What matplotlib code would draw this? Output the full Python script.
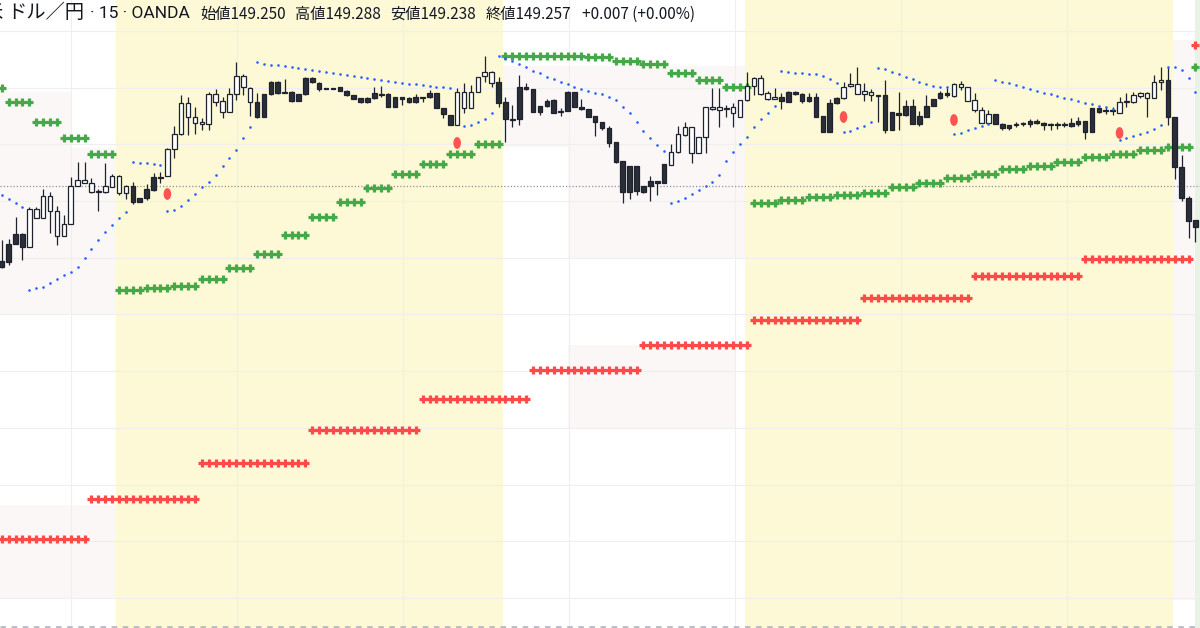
import numpy as np
import matplotlib
matplotlib.use("Agg")
import matplotlib.pyplot as plt
from matplotlib.patches import Rectangle, Ellipse

plt.rcParams['font.family'] = ['Noto Sans CJK JP', 'DejaVu Sans']

# ---------------- data (15-minute USD/JPY bars) ----------------
opens = [
    149.189, 149.206, 149.216, 149.216, 149.203, 149.232, 149.232, 149.239, 149.214, 149.214,
    149.226, 149.264, 149.267, 149.258, 149.258, 149.258, 149.263, 149.257, 149.257, 149.264,
    149.252, 149.261, 149.273, 149.273, 149.274, 149.301, 149.316, 149.333, 149.327, 149.326,
    149.326, 149.348, 149.338, 149.338, 149.356, 149.363, 149.348, 149.348, 149.356, 149.368,
    149.368, 149.357, 149.358, 149.356, 149.372, 149.372, 149.367, 149.362, 149.362, 149.363,
    149.359, 149.355, 149.352, 149.352, 149.357, 149.356, 149.356, 149.353, 149.353, 149.352,
    149.353, 149.353, 149.357, 149.357, 149.342, 149.335, 149.325, 149.342, 149.342, 149.358,
    149.374, 149.367, 149.368, 149.348, 149.331, 149.363, 149.363, 149.361, 149.344, 149.349,
    149.350, 149.339, 149.358, 149.358, 149.343, 149.341, 149.334, 149.328, 149.322, 149.308,
    149.289, 149.284, 149.284, 149.264, 149.269, 149.269, 149.286, 149.285, 149.298, 149.315,
    149.297, 149.297, 149.313, 149.341, 149.340, 149.341, 149.337, 149.333, 149.350, 149.364,
    149.356, 149.351, 149.351, 149.353, 149.358, 149.358, 149.356, 149.353, 149.353, 149.334,
    149.347, 149.352, 149.352, 149.364, 149.356, 149.356, 149.355, 149.355, 149.355, 149.338,
    149.337, 149.344, 149.344, 149.334, 149.344, 149.351, 149.357, 149.357, 149.354, 149.363,
    149.349, 149.340, 149.327, 149.327, 149.336, 149.326, 149.325, 149.326, 149.327, 149.329,
    149.329, 149.327, 149.326, 149.326, 149.326, 149.327, 149.329, 149.329, 149.342, 149.342,
    149.340, 149.340, 149.337, 149.348, 149.348, 149.354, 149.352, 149.352, 149.368, 149.370,
    149.333, 149.283, 149.252, 149.230,
]
highs = [
    149.210, 149.211, 149.233, 149.217, 149.243, 149.243, 149.261, 149.258, 149.244, 149.235,
    149.273, 149.288, 149.288, 149.272, 149.261, 149.287, 149.276, 149.275, 149.265, 149.268,
    149.252, 149.266, 149.277, 149.278, 149.302, 149.324, 149.355, 149.353, 149.343, 149.332,
    149.358, 149.361, 149.353, 149.362, 149.388, 149.376, 149.363, 149.357, 149.356, 149.369,
    149.369, 149.371, 149.359, 149.356, 149.373, 149.373, 149.368, 149.362, 149.362, 149.363,
    149.360, 149.355, 149.352, 149.353, 149.363, 149.364, 149.357, 149.353, 149.353, 149.353,
    149.356, 149.353, 149.360, 149.357, 149.342, 149.335, 149.362, 149.367, 149.365, 149.373,
    149.394, 149.379, 149.373, 149.353, 149.345, 149.375, 149.367, 149.361, 149.344, 149.351,
    149.351, 149.342, 149.359, 149.358, 149.351, 149.341, 149.334, 149.328, 149.324, 149.308,
    149.289, 149.284, 149.284, 149.264, 149.274, 149.269, 149.286, 149.306, 149.324, 149.328,
    149.323, 149.313, 149.343, 149.362, 149.362, 149.345, 149.347, 149.350, 149.378, 149.373,
    149.375, 149.359, 149.362, 149.357, 149.359, 149.359, 149.357, 149.357, 149.357, 149.334,
    149.351, 149.353, 149.368, 149.377, 149.383, 149.367, 149.361, 149.355, 149.370, 149.338,
    149.358, 149.350, 149.351, 149.339, 149.355, 149.351, 149.359, 149.362, 149.367, 149.369,
    149.363, 149.357, 149.343, 149.340, 149.336, 149.327, 149.325, 149.328, 149.328, 149.331,
    149.331, 149.328, 149.327, 149.328, 149.328, 149.332, 149.333, 149.329, 149.342, 149.343,
    149.343, 149.343, 149.353, 149.357, 149.358, 149.358, 149.358, 149.375, 149.383, 149.383,
    149.333, 149.295, 149.254, 149.230,
]
lows = [
    149.182, 149.185, 149.206, 149.190, 149.203, 149.232, 149.232, 149.217, 149.205, 149.214,
    149.226, 149.264, 149.267, 149.257, 149.239, 149.257, 149.263, 149.255, 149.251, 149.246,
    149.248, 149.250, 149.259, 149.267, 149.274, 149.292, 149.315, 149.315, 149.316, 149.320,
    149.320, 149.344, 149.332, 149.338, 149.350, 149.355, 149.334, 149.332, 149.333, 149.355,
    149.356, 149.357, 149.348, 149.349, 149.355, 149.367, 149.359, 149.361, 149.361, 149.359,
    149.354, 149.351, 149.347, 149.347, 149.351, 149.353, 149.343, 149.343, 149.345, 149.347,
    149.347, 149.348, 149.352, 149.342, 149.332, 149.325, 149.325, 149.337, 149.342, 149.358,
    149.368, 149.363, 149.343, 149.308, 149.323, 149.325, 149.360, 149.338, 149.335, 149.343,
    149.337, 149.334, 149.339, 149.343, 149.340, 149.333, 149.314, 149.320, 149.303, 149.287,
    149.247, 149.251, 149.255, 149.257, 149.249, 149.255, 149.267, 149.285, 149.297, 149.314,
    149.287, 149.297, 149.297, 149.340, 149.323, 149.333, 149.323, 149.333, 149.349, 149.355,
    149.355, 149.350, 149.351, 149.341, 149.348, 149.355, 149.347, 149.348, 149.333, 149.318,
    149.318, 149.346, 149.351, 149.363, 149.356, 149.349, 149.349, 149.328, 149.317, 149.320,
    149.320, 149.334, 149.326, 149.324, 149.333, 149.344, 149.351, 149.353, 149.353, 149.360,
    149.349, 149.338, 149.327, 149.327, 149.326, 149.320, 149.320, 149.323, 149.324, 149.323,
    149.326, 149.320, 149.320, 149.321, 149.323, 149.323, 149.324, 149.311, 149.318, 149.337,
    149.336, 149.335, 149.337, 149.343, 149.347, 149.352, 149.333, 149.352, 149.360, 149.325,
    149.271, 149.249, 149.212, 149.208,
]
closes = [
    149.183, 149.188, 149.206, 149.203, 149.241, 149.241, 149.254, 149.254, 149.239, 149.226,
    149.264, 149.270, 149.270, 149.267, 149.259, 149.264, 149.274, 149.274, 149.264, 149.248,
    149.248, 149.252, 149.260, 149.272, 149.301, 149.316, 149.347, 149.347, 149.333, 149.328,
    149.356, 149.356, 149.349, 149.356, 149.374, 149.374, 149.362, 149.333, 149.333, 149.356,
    149.357, 149.358, 149.349, 149.349, 149.356, 149.368, 149.361, 149.361, 149.361, 149.359,
    149.355, 149.351, 149.348, 149.348, 149.352, 149.355, 149.343, 149.343, 149.351, 149.348,
    149.348, 149.352, 149.353, 149.342, 149.336, 149.325, 149.358, 149.358, 149.358, 149.373,
    149.378, 149.378, 149.347, 149.331, 149.330, 149.331, 149.361, 149.338, 149.338, 149.344,
    149.337, 149.338, 149.339, 149.343, 149.341, 149.333, 149.328, 149.322, 149.307, 149.288,
    149.258, 149.258, 149.259, 149.258, 149.264, 149.267, 149.267, 149.298, 149.316, 149.323,
    149.323, 149.313, 149.343, 149.343, 149.343, 149.342, 149.343, 149.350, 149.364, 149.372,
    149.372, 149.357, 149.353, 149.349, 149.348, 149.356, 149.349, 149.349, 149.333, 149.318,
    149.318, 149.347, 149.363, 149.366, 149.366, 149.359, 149.358, 149.354, 149.320, 149.320,
    149.335, 149.335, 149.326, 149.326, 149.333, 149.344, 149.352, 149.355, 149.366, 149.366,
    149.363, 149.350, 149.340, 149.336, 149.326, 149.322, 149.322, 149.325, 149.326, 149.326,
    149.327, 149.325, 149.325, 149.325, 149.325, 149.324, 149.326, 149.318, 149.318, 149.338,
    149.339, 149.339, 149.348, 149.349, 149.355, 149.357, 149.357, 149.368, 149.370, 149.333,
    149.283, 149.252, 149.229, 149.223,
]
# Parabolic SAR (one dot per bar, NaN = not drawn)
sar = [
    149.255, 149.251, 149.247, 149.243, 149.160, 149.162, 149.163, 149.167, 149.171, 149.175,
    149.178, 149.183, 149.192, 149.201, 149.210, 149.218, 149.225, 149.232, 149.238, 149.288,
    149.287, 149.287, 149.286, 149.285, 149.239, 149.240, 149.244, 149.250, 149.256, 149.263,
    149.268, 149.275, 149.284, 149.292, 149.300, 149.312, 149.323, 149.388, 149.386, 149.385,
    149.385, 149.384, 149.383, 149.382, 149.381, 149.380, 149.379, 149.378, 149.377, 149.376,
    149.375, 149.374, 149.373, 149.372, 149.371, 149.370, 149.369, 149.368, 149.367, 149.366,
    149.366, 149.365, 149.364, 149.363, 149.363, 149.362, np.nan, 149.324, 149.325, 149.328,
    149.331, 149.337, 149.394, 149.392, 149.389, 149.386, 149.383, 149.379, 149.377, 149.373,
    149.371, 149.368, 149.366, 149.363, 149.361, 149.359, 149.357, 149.356, 149.353, 149.350,
    149.343, 149.337, 149.328, 149.319, 149.312, 149.305, 149.299, 149.247, 149.249, 149.252,
    149.256, 149.260, 149.264, 149.268, 149.275, 149.289, 149.298, 149.306, 149.313, 149.323,
    149.331, 149.337, 149.344, 149.379, 149.378, 149.377, 149.377, 149.376, 149.376, 149.374,
    149.371, 149.367, 149.318, 149.319, 149.322, 149.324, 149.328, 149.382, 149.381, 149.378,
    149.376, 149.373, 149.371, 149.368, 149.366, 149.364, 149.363, 149.363, 149.316, 149.317,
    149.320, 149.322, 149.324, 149.326, 149.370, 149.368, 149.367, 149.365, 149.363, 149.361,
    149.359, 149.357, 149.356, 149.354, 149.352, 149.351, 149.349, 149.347, 149.346, 149.344,
    149.343, 149.341, 149.310, 149.312, 149.314, 149.316, 149.318, 149.321, 149.325, 149.383,
    149.383, 149.380, 149.372, 149.358,
]
# hourly step level (green crosses): first bar of each group and its level
hour_start = [0, 1, 5, 9, 13, 17, 21, 25, 29, 33, 37, 41, 45, 49, 53, 57, 61, 65, 69, 73, 77, 81,
              85, 89, 93, 97, 101, 105, 109, 113, 117, 121, 125, 129, 133, 137, 141, 145, 149,
              153, 157, 161, 165, 169, 173]
hour_level = [149.362, 149.348, 149.328, 149.312, 149.296, 149.160, 149.162, 149.164, 149.171,
              149.182, 149.196, 149.215, 149.233, 149.248, 149.262, 149.276, 149.286, 149.296,
              149.306, 149.394, 149.394, 149.394, 149.393, 149.389, 149.386, 149.377, 149.370,
              149.363, 149.247, 149.250, 149.253, 149.255, 149.257, 149.263, 149.267, 149.272,
              149.276, 149.281, 149.284, 149.288, 149.293, 149.296, 149.300, 149.303, 149.383]
# 4-hour step level (red crosses)
h4_start = [0, 13, 29, 45, 61, 77, 93, 109, 125, 141, 157, 173]
h4_level = [148.911, 148.951, 148.987, 149.020, 149.051, 149.080, 149.105, 149.130,
            149.152, 149.174, 149.191, 149.405]
# buy signal markers
signal_bar = [24, 66, 122, 138, 162]
signal_price = [149.256, 149.307, 149.333, 149.330, 149.317]
last_line_price = 149.264
sessions = [(16.56, 72.64), (107.7, 169.75)]

title_pair = "ドル／円"
title_rest = "· 15 · OANDA"
title_cut = "米"
ohlc_labels = ["始値149.250", "高値149.288", "安値149.238", "終値149.257", "+0.007 (+0.00%)"]

# ---------------- figure ----------------
W, H = 1200, 628
fig = plt.figure(figsize=(W / 100, H / 100), dpi=100)
fig.patch.set_facecolor('white')
ax = fig.add_axes([0, 0, 1, 1])
n = len(opens)
bars = np.arange(n)
ax.set_xlim(-0.254, 173.66)
ax.set_ylim(148.822, 149.450)
ax.axis('off')

# backgrounds
for s, e in sessions:
    ax.axvspan(s, e, color='#fdf8d5', lw=0, zorder=0)
pink = '#fbf7f7'
for (x0, x1, y0, y1) in [(-0.3, 16.56, 149.135, 149.302), (-0.3, 10.0, 149.302, 149.358),
                         (-0.3, 16.56, 148.852, 148.945), (72.64, 107.7, 149.303, 149.384),
                         (82.1, 107.7, 149.192, 149.303), (82.1, 106.3, 149.022, 149.105),
                         (169.75, 172.95, 148.850, 149.410)]:
    ax.add_patch(Rectangle((x0, y0), x1 - x0, y1 - y0, facecolor=pink, lw=0, zorder=0.5))
ax.axvspan(172.95, 174, color='#e8f3e5', lw=0, zorder=0.6)

# grid
for k in range(11):
    ax.axhline(149.419 - 0.0567 * k, color='#efefef', lw=0.8, zorder=1)
for k in range(7):
    ax.axvline(10.04 + 24.06 * k, color='#efefef', lw=0.8, zorder=1)

# last price line & bottom border
ax.axhline(last_line_price, color='#8f9099', lw=0.9, ls=(0, (1, 1.6)), zorder=2)
ax.axhline(148.8235, color='#b8bbc2', lw=2.0, ls=(0, (2, 2)), zorder=2)

# step crosses
hour_len = np.diff(hour_start + [n])
h4_len = np.diff(h4_start + [n])
green_vals = np.repeat(hour_level, hour_len)
red_vals = np.repeat(h4_level, h4_len)
ax.plot(bars, red_vals, ls='none', marker='+', ms=6.3, mew=2.3, color='#ff4a4a', zorder=3)
ax.plot(bars, green_vals, ls='none', marker='+', ms=6.3, mew=2.3, color='#45a849', zorder=3)

# candles
o = np.array(opens); h = np.array(highs); l = np.array(lows); c = np.array(closes)
up = c >= o
ax.vlines(bars, l, h, color='#1e222d', lw=0.9, zorder=4)
bottom = np.minimum(o, c)
height = np.maximum(np.abs(c - o), 0.0012)
ax.bar(bars[up], height[up], bottom=bottom[up], width=0.68, color='white',
       edgecolor='#1e222d', lw=0.9, zorder=5)
ax.bar(bars[~up], height[~up], bottom=bottom[~up], width=0.68, color='#2a2e39',
       edgecolor='#1e222d', lw=0.9, zorder=5)

# SAR dots
ax.plot(bars, sar, ls='none', marker='o', ms=1.9, mew=0, color='#2962ff', zorder=6)

# signals
for b, p in zip(signal_bar, signal_price):
    ax.add_patch(Ellipse((b, p), 1.1, 0.0118, facecolor='#ff5252', lw=0, zorder=6))

# title
renderer = fig.canvas.get_renderer()
def put(x_px, y_px, s, size, ha='left', family=None):
    kw = {}
    if family:
        kw['family'] = family
    return fig.text(x_px / W, 1 - y_px / H, s, fontsize=size, ha=ha, va='center',
                    color='#131722', **kw)

def fit(x_px, y_px, s, target_w, family=None):
    t = put(x_px, y_px, s, 12, family=family)
    w = t.get_window_extent(renderer).width
    t.set_fontsize(12 * target_w / w)
    return t

tp = fit(7, 13, title_pair, 77)
put(3, 13, title_cut, tp.get_fontsize(), ha='right')
put(190, 13, title_rest, 12.5, ha='right', family='Roboto')

t0 = put(200, 14, ohlc_labels[0], 10.5)
w0 = t0.get_window_extent(renderer).width
fs_val = 10.5 * 86 / w0
t0.set_fontsize(fs_val)
for xp, s in zip([295, 390, 486, 582], ohlc_labels[1:]):
    put(xp, 14, s, fs_val)

fig.savefig('out.png', dpi=100, facecolor='white')
